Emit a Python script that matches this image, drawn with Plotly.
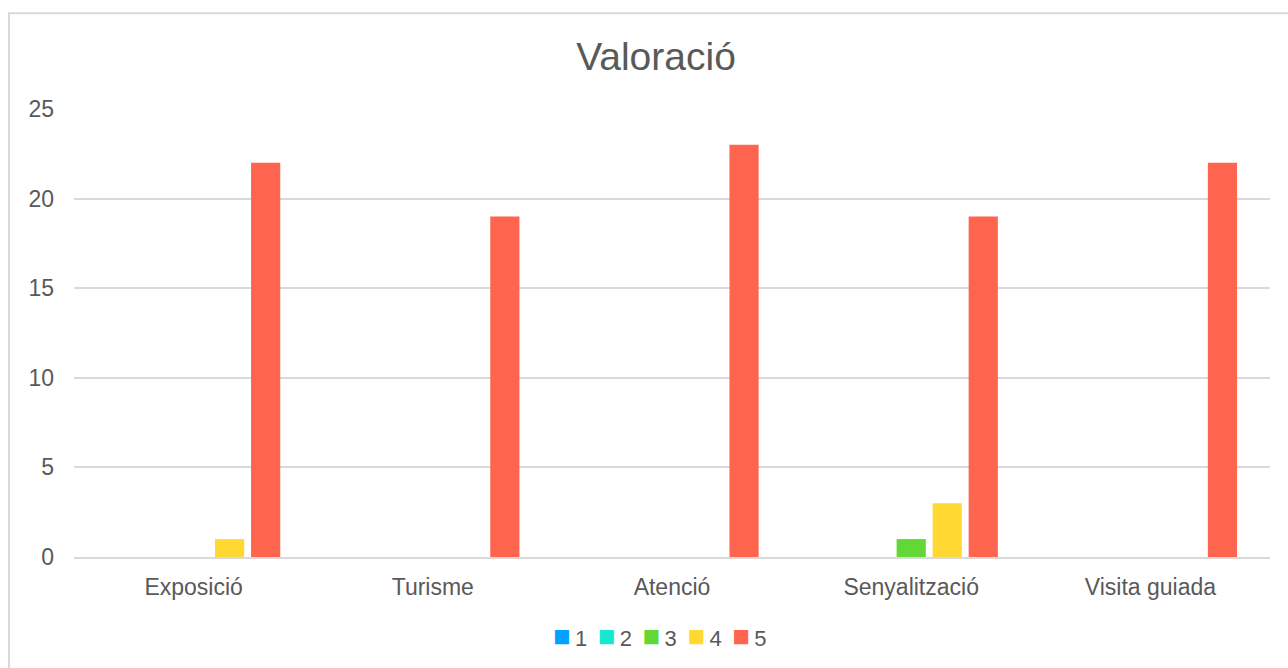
import plotly.graph_objects as go

categories = ["Exposició", "Turisme", "Atenció", "Senyalització", "Visita guiada"]
series_names = ["1", "2", "3", "4", "5"]
values_1 = [0, 0, 0, 0, 0]
values_2 = [0, 0, 0, 0, 0]
values_3 = [0, 0, 0, 1, 0]
values_4 = [1, 0, 0, 3, 0]
values_5 = [22, 19, 23, 19, 22]
colors = ["#00A2FF", "#16E7CF", "#61D836", "#FFD932", "#FF644E"]

all_values = [values_1, values_2, values_3, values_4, values_5]

fig = go.Figure()
for name, vals, color in zip(series_names, all_values, colors):
    fig.add_trace(go.Bar(x=categories, y=vals, name=name, showlegend=False,
                         marker=dict(color=color, line=dict(width=0))))

# legend drawn as one line of text so the spacing matches the original
small_gap = "<span style='font-size:16px'>\u00a0</span>"
legend_text = ("\u00a0" + small_gap).join(
    f"<span style='color:{c};font-size:29px'>\u25a0</span>{small_gap}{n}" for n, c in zip(series_names, colors)
)

font_color = "#595959"
fig.update_layout(
    width=1288, height=668,
    paper_bgcolor="white", plot_bgcolor="white",
    margin=dict(l=74, r=18, t=109, b=111),
    font=dict(family="Liberation Sans, Arial", color=font_color, size=22),
    title=dict(text="Valoració", x=656 / 1288, xanchor="center", y=1 - 56 / 668, yanchor="middle",
               font=dict(size=39, color=font_color)),
    barmode="group", bargap=0.247, bargroupgap=0.19,
    showlegend=False,
    xaxis=dict(showgrid=False, showline=True, linecolor="#D9D9D9", linewidth=2,
               ticks="", ticklabelstandoff=8, tickfont=dict(size=23, color=font_color)),
    yaxis=dict(range=[0, 25], dtick=5, showgrid=True, gridcolor="#D9D9D9", gridwidth=1.5,
               zeroline=False, ticks="", ticklabelstandoff=19,
               tickfont=dict(size=23, color=font_color)),
    annotations=[dict(text=legend_text, xref="paper", yref="paper", x=(659 - 74) / 1196, y=-0.176,
                      xanchor="center", yanchor="middle", showarrow=False,
                      font=dict(size=22, color=font_color))],
    shapes=[dict(type="rect", xref="paper", yref="paper", x0=-0.0543, x1=1.05, y0=-0.3, y1=1.214,
                 line=dict(color="#D9D9D9", width=2), fillcolor="rgba(0,0,0,0)", layer="below")],
)

fig.write_html("out.html", config={"displayModeBar": False},
               post_script="document.body.style.margin='0';")
